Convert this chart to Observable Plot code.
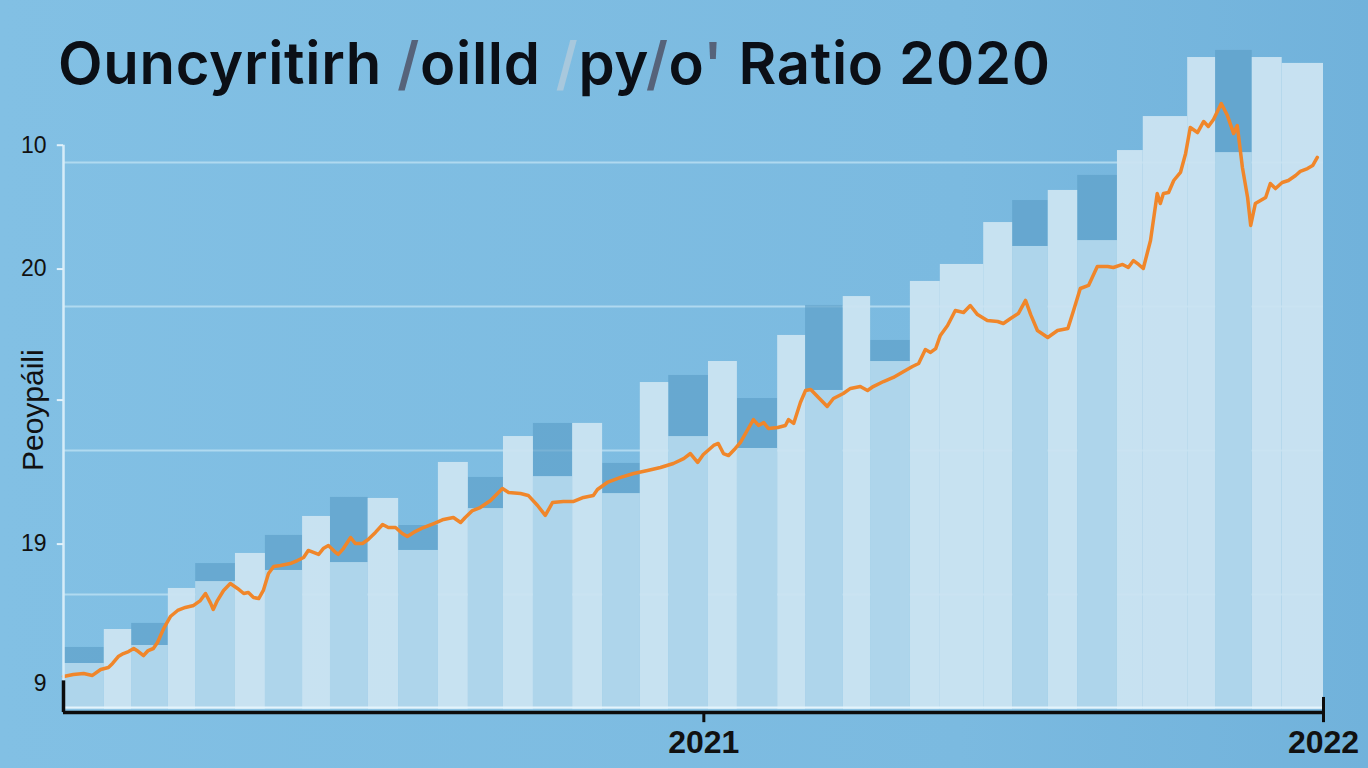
<!DOCTYPE html>
<html>
<head>
<meta charset="utf-8">
<script src="https://cdn.jsdelivr.net/npm/d3@7"></script>
<script src="https://cdn.jsdelivr.net/npm/@observablehq/plot@0.6"></script>
<style>
  html, body { margin: 0; padding: 0; overflow: hidden; }
  body { width: 1368px; height: 768px; background: linear-gradient(to right, #82c0e4 0%, #7bbae0 70%, #71b2db 100%); }
  #wrap { position: relative; width: 1368px; height: 768px; }
  #chart { position: absolute; left: 0; top: 0; }
  #title { position: absolute; left: 58px; top: 34px; margin: 0; font-family: Inter, "Open Sans", sans-serif; font-weight: 600; font-size: 58px; line-height: 1; color: #0b0f16; white-space: nowrap; letter-spacing: 0.7px; z-index: 2; }
  #title .g1 { color: #56637a; }
  #title .g2 { color: #a8c8dd; }
</style>
</head>
<body>
<div id="wrap">
  <div id="chart"></div>
  <h1 id="title">Ouncyritirh <span class="g1">/</span>oilld <span class="g2">/</span>py<span class="g1">/</span>o<span class="g1">'</span> Ratio 2020</h1>
</div>
<script>
// ---- data (x in months since Jan 2020, y in ratio units) ----
const barEdges = [-0.40, 0.39, 0.92, 1.63, 2.16, 2.93, 3.51, 4.23, 4.77, 5.50, 6.09, 6.86, 7.44, 8.12, 8.70, 9.46, 10.04, 10.77, 11.32, 12.09, 12.65, 13.43, 13.97, 14.70, 15.23, 16.00, 16.58, 17.42, 17.98, 18.67, 19.24, 20.01, 20.51, 21.37, 21.91, 22.62, 23.20, 24.00];
const barKind = ["box","bar","box","bar","box","bar","box","bar","box","bar","box","bar","box","bar","box","bar","box","bar","box","bar","box","bar","box","bar","box","bar","bar","bar","box","bar","box","bar","bar","bar","box","bar","bar"];
const barLow  = [5.21, 7.57, 6.46, 10.42, 10.90, 12.85, 11.67, 15.42, 12.22, 16.67, 13.06, 19.17, 15.97, 20.97, 18.19, 21.88, 17.01, 24.72, 20.97, 26.18, 20.14, 27.99, 24.17, 30.69, 26.18, 31.74, 32.92, 35.83, 34.17, 38.06, 34.58, 40.83, 43.19, 47.29, 40.69, 47.29, 46.88];
const barHigh = [6.32, null, 7.99, null, 12.15, null, 14.10, null, 16.74, null, 14.79, null, 18.13, null, 21.88, null, 19.10, null, 25.21, null, 23.61, null, 30.07, null, 27.64, null, null, null, 37.36, null, 39.10, null, null, null, 47.78, null, null];

const lineMonth = [-0.40,-0.21,-0.01,0.16,0.32,0.47,0.55,0.66,0.76,0.86,
  0.96,1.05,1.15,1.24,1.34,1.42,1.54,1.67,1.81,1.96,
  2.12,2.25,2.35,2.45,2.50,2.58,2.70,2.83,2.97,3.09,
  3.18,3.28,3.38,3.47,3.57,3.67,3.80,3.99,4.13,4.25,
  4.34,4.44,4.54,4.63,4.73,4.87,4.92,5.02,5.16,5.25,
  5.39,5.50,5.64,5.78,5.89,6.03,6.16,6.26,6.38,6.57,
  6.77,6.96,7.15,7.29,7.38,7.52,7.67,7.87,8.10,8.22,
  8.45,8.60,8.78,8.93,9.07,9.28,9.48,9.67,9.86,9.94,
  10.13,10.39,10.64,10.91,11.16,11.41,11.61,11.74,11.88,11.99,
  12.19,12.28,12.38,12.48,12.61,12.71,12.84,12.96,13.06,13.16,
  13.25,13.43,13.58,13.64,13.74,13.87,13.97,14.07,14.22,14.39,
  14.51,14.70,14.84,15.03,15.17,15.28,15.48,15.67,15.87,16.04,
  16.16,16.29,16.39,16.49,16.58,16.72,16.87,17.03,17.16,17.30,
  17.49,17.69,17.80,17.94,18.09,18.23,18.33,18.46,18.66,18.85,
  19.05,19.16,19.29,19.45,19.62,19.82,19.93,20.11,20.22,20.32,
  20.42,20.51,20.65,20.78,20.84,20.90,21.00,21.10,21.23,21.33,
  21.42,21.56,21.68,21.77,21.87,22.02,22.14,22.26,22.33,22.43,
  22.53,22.59,22.68,22.78,22.88,22.97,23.07,23.20,23.32,23.46,
  23.55,23.69,23.79,23.88];
const lineValue = [4.31,4.44,4.51,4.38,4.79,4.93,5.21,5.69,5.90,6.04,
  6.25,6.04,5.76,6.11,6.25,6.67,7.64,8.47,8.89,9.10,
  9.24,9.58,10.07,9.38,8.96,9.58,10.28,10.76,10.42,10.07,
  10.14,9.79,9.72,10.28,11.46,11.94,12.01,12.15,12.36,12.57,
  13.06,12.92,12.78,13.19,13.40,12.92,12.78,13.19,13.96,13.54,
  13.54,13.82,14.31,14.86,14.65,14.65,14.24,14.03,14.31,14.65,
  14.93,15.21,15.35,15.00,15.35,15.83,16.04,16.53,17.36,17.08,
  17.01,16.88,16.18,15.49,16.39,16.46,16.46,16.74,16.88,17.29,
  17.78,18.13,18.40,18.61,18.82,19.10,19.44,19.79,19.17,19.72,
  20.35,20.49,19.79,19.65,20.14,20.56,21.39,22.15,21.74,21.94,
  21.53,21.60,21.74,22.15,21.88,23.33,24.17,24.24,23.68,23.06,
  23.61,23.96,24.31,24.44,24.17,24.44,24.79,25.07,25.49,25.83,
  26.04,27.01,26.81,27.08,27.99,28.68,29.72,29.58,30.07,29.44,
  29.03,28.96,28.82,29.17,29.51,30.42,29.44,28.33,27.85,28.33,
  28.47,29.72,31.25,31.46,32.78,32.78,32.71,32.92,32.71,33.19,
  32.92,32.64,34.58,37.85,37.15,37.85,37.92,38.75,39.31,40.63,
  42.43,42.08,42.85,42.50,42.99,44.10,43.26,42.01,42.57,39.65,
  37.57,35.63,37.15,37.36,37.57,38.54,38.19,38.61,38.75,39.10,
  39.38,39.58,39.79,40.35];

const gridValues = [10, 20, 30, 40];
const yTickValues = [41.2, 32.6, 23.5, 13.5, 3.8];
const yTickLabels = ["10", "20", "", "19", "9"];
const yTickMarks = [41.2, 32.6, 23.5, 13.5];
const xTickValues = [12, 24];
const xTickLabels = ["2021", "2022"];
const yLabel = "Peoypáili";

// ---- build tables ----
const bars = barKind.map((k, i) => ({kind: k, x1: barEdges[i], x2: barEdges[i + 1], low: barLow[i], high: barHigh[i]}));
const plainBars = bars.filter(d => d.kind === "bar");
const boxBars = bars.filter(d => d.kind === "box");
const line = lineMonth.map((m, i) => ({m, v: lineValue[i]}));
const yTicks = yTickValues.map((v, i) => ({v, label: yTickLabels[i]}));
const xTicks = xTickValues.map((m, i) => ({m, label: xTickLabels[i]}));

const base = 2.0;
const axisY = 1.8;
const x0 = -0.4;

const chart = Plot.plot({
  width: 1368,
  height: 768,
  marginLeft: 63,
  marginRight: 45,
  marginTop: 0,
  marginBottom: 30,
  x: {domain: [x0, 24], axis: null},
  y: {domain: [0, 738 / 14.4], axis: null},
  style: {background: "transparent", overflow: "visible"},
  marks: [
    Plot.ruleY(gridValues, {stroke: "#b9def2", strokeWidth: 2, strokeOpacity: 0.85}),
    Plot.rectY(boxBars, {x1: "x1", x2: "x2", y1: base, y2: "low", fill: "#aed5eb"}),
    Plot.rect(boxBars, {x1: "x1", x2: "x2", y1: "low", y2: "high", fill: "#5d9fc8", fillOpacity: 0.68}),
    Plot.rectY(plainBars, {x1: "x1", x2: "x2", y1: base, y2: "low", fill: "#cbe4f1", fillOpacity: 0.95}),
    Plot.ruleY([2.15], {stroke: "#e4f4fc", strokeWidth: 2}),
    Plot.line(line, {x: "m", y: "v", stroke: "#f0862a", strokeWidth: 3.5, strokeLinejoin: "round"}),
    // y axis
    Plot.ruleX([x0], {y1: 4.0, y2: 41.2, stroke: "#d6ecf8", strokeWidth: 2.5}),
    Plot.ruleY(yTickMarks, {x1: -0.52, x2: -0.4, stroke: "#e2f2fb", strokeWidth: 2}),
    Plot.text(yTicks, {x: x0, y: "v", text: "label", textAnchor: "end", dx: -17, fontSize: 23, fill: "#111", fontFamily: "Liberation Sans, Arial, sans-serif"}),
    Plot.text([yLabel], {x: x0, y: 22.8, text: d => d, rotate: -90, dx: -30, fontSize: 30, fill: "#111", fontFamily: "Liberation Sans, Arial, sans-serif"}),
    // x axis
    Plot.ruleY([axisY], {stroke: "#0c0c0c", strokeWidth: 3.5}),
    Plot.ruleX([x0], {y1: axisY, y2: 4.0, stroke: "#0c0c0c", strokeWidth: 3.5}),
    Plot.ruleX([12], {y1: 1.1, y2: axisY, stroke: "#0c0c0c", strokeWidth: 3}),
    Plot.ruleX([24], {y1: 1.1, y2: 2.85, stroke: "#0c0c0c", strokeWidth: 3}),
    Plot.text(xTicks, {x: "m", y: axisY, text: "label", dy: 30, fontSize: 32, fontWeight: "bold", fill: "#111", fontFamily: "Liberation Sans, Arial, sans-serif"})
  ]
});
document.getElementById("chart").append(chart);
</script>
</body>
</html>
